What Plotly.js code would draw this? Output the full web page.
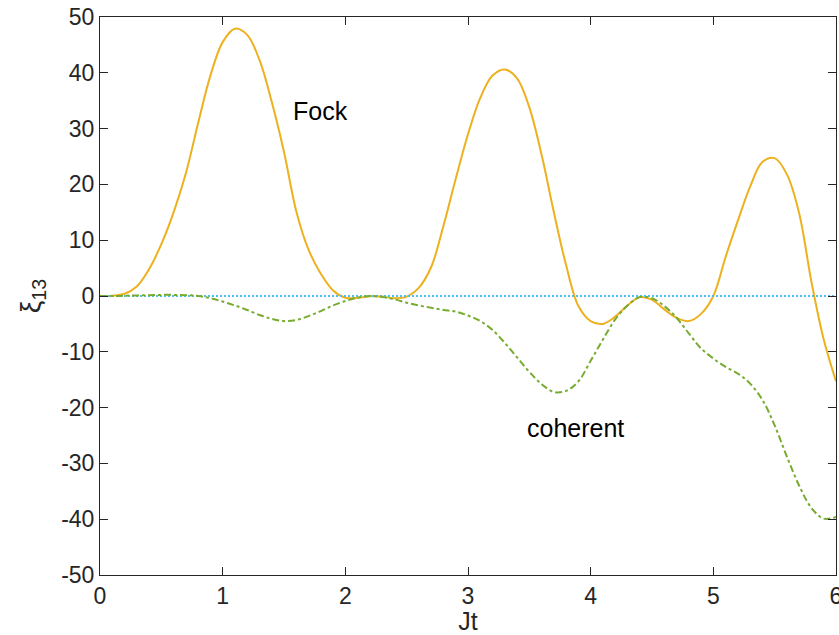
<!DOCTYPE html>
<html>
<head>
<meta charset="utf-8">
<script src="https://cdn.plot.ly/plotly-3.0.1.min.js"></script>
<style>html,body{margin:0;padding:0;background:#fff;}#chart{width:839px;height:635px;}</style>
</head>
<body>
<div id="chart"></div>
<script>
// time axis (Jt)
const tX = [0, 0.1, 0.2, 0.3, 0.4, 0.5, 0.6, 0.7, 0.8, 0.9, 1.0, 1.1, 1.2, 1.3, 1.4, 1.5, 1.6, 1.7, 1.8, 1.9, 2.0, 2.1, 2.2, 2.3, 2.4, 2.5, 2.6, 2.7, 2.8, 2.9, 3.0, 3.1, 3.2, 3.3, 3.4, 3.5, 3.6, 3.7, 3.8, 3.9, 4.0, 4.1, 4.2, 4.3, 4.4, 4.5, 4.6, 4.7, 4.8, 4.9, 5.0, 5.1, 5.2, 5.3, 5.4, 5.5, 5.6, 5.7, 5.8, 5.9, 6.0];
// Fock state curve
const fockY = [0, 0.05, 0.4, 1.7, 4.8, 9.3, 15, 22, 31, 39.5, 45.5, 47.9, 46.8, 42.3, 34.8, 25.8, 15.2, 8.3, 4.0, 1.0, -0.3, -0.35, -0.05, -0.1, -0.4, -0.1, 1.5, 5.2, 12.6, 21, 29, 35.5, 39.5, 40.6, 39, 33.8, 25.3, 15, 5.5, -1.8, -4.5, -5.0, -3.7, -1.7, -0.2, -0.7, -2.4, -3.9, -4.5, -3.2, 0, 7, 13.5, 19.6, 24, 24.7, 21.8, 14.8, 2.5, -7.8, -15.3];
// coherent state curve
const cohY = [0, 0, 0.05, 0.1, 0.15, 0.2, 0.2, 0.15, 0, -0.4, -1.0, -1.7, -2.5, -3.4, -4.1, -4.5, -4.3, -3.6, -2.7, -1.7, -0.9, -0.3, 0, -0.2, -0.6, -1.2, -1.7, -2.1, -2.5, -2.8, -3.5, -4.5, -6.1, -8.4, -11, -13.6, -15.8, -17.2, -17, -15.3, -11.6, -7.8, -4.2, -1.7, -0.2, -0.4, -1.8, -3.9, -6.7, -9.4, -11.2, -12.7, -13.9, -15.7, -18.6, -23.2, -28.8, -34, -38, -39.9, -39.6];
// reference (zero) curve
const refX = [0, 6];
const refY = [0, 0];
const xTicks = [0, 1, 2, 3, 4, 5, 6];
const yTicks = [-50, -40, -30, -20, -10, 0, 10, 20, 30, 40, 50];
const labelTexts = ['Fock', 'coherent'];
const labelX = [1.8, 3.88];
const labelY = [33.2, -23.7];

const axisColor = '#262626';
const traces = [
  {x: tX, y: fockY, type: 'scatter', mode: 'lines', line: {color: '#EDB120', width: 2, shape: 'spline', smoothing: 1}, hoverinfo: 'skip'},
  {x: refX, y: refY, type: 'scatter', mode: 'lines', line: {color: '#4DBEEE', width: 2, dash: '2px,2px'}, hoverinfo: 'skip'},
  {x: tX, y: cohY, type: 'scatter', mode: 'lines', line: {color: '#77AC30', width: 2, dash: '7px,3px,3px,3px', shape: 'spline', smoothing: 1}, hoverinfo: 'skip'}
];
const layout = {
  width: 839, height: 635,
  margin: {l: 100, r: 3, t: 17, b: 60},
  paper_bgcolor: '#fff', plot_bgcolor: '#fff',
  showlegend: false,
  font: {family: 'Liberation Sans, Arial, sans-serif', color: axisColor},
  xaxis: {
    range: [0, 6], tickvals: xTicks, ticktext: xTicks.map(String),
    ticks: 'inside', ticklen: 8, tickcolor: axisColor, tickwidth: 1,
    showline: true, linecolor: axisColor, linewidth: 1, mirror: 'ticks',
    showgrid: false, zeroline: false, ticklabeloverflow: 'allow',
    tickfont: {size: 23, color: axisColor},
    title: {text: 'Jt', font: {size: 25, color: axisColor}, standoff: 0}
  },
  yaxis: {
    range: [-50, 50], tickvals: yTicks, ticktext: yTicks.map(String),
    ticks: 'inside', ticklen: 8, tickcolor: axisColor, tickwidth: 1,
    showline: true, linecolor: axisColor, linewidth: 1, mirror: 'ticks',
    showgrid: false, zeroline: false, ticklabeloverflow: 'allow',
    tickfont: {size: 23, color: axisColor},
    title: {text: 'ξ<sub>13</sub>', font: {size: 28, color: axisColor}, standoff: 12}
  },
  annotations: labelTexts.map((t, i) => ({
    x: labelX[i], y: labelY[i], xref: 'x', yref: 'y', text: t, showarrow: false,
    font: {size: 25, color: '#000'}, xanchor: 'center', yanchor: 'middle'
  }))
};
Plotly.newPlot('chart', traces, layout, {staticPlot: true, displayModeBar: false});
</script>
</body>
</html>
